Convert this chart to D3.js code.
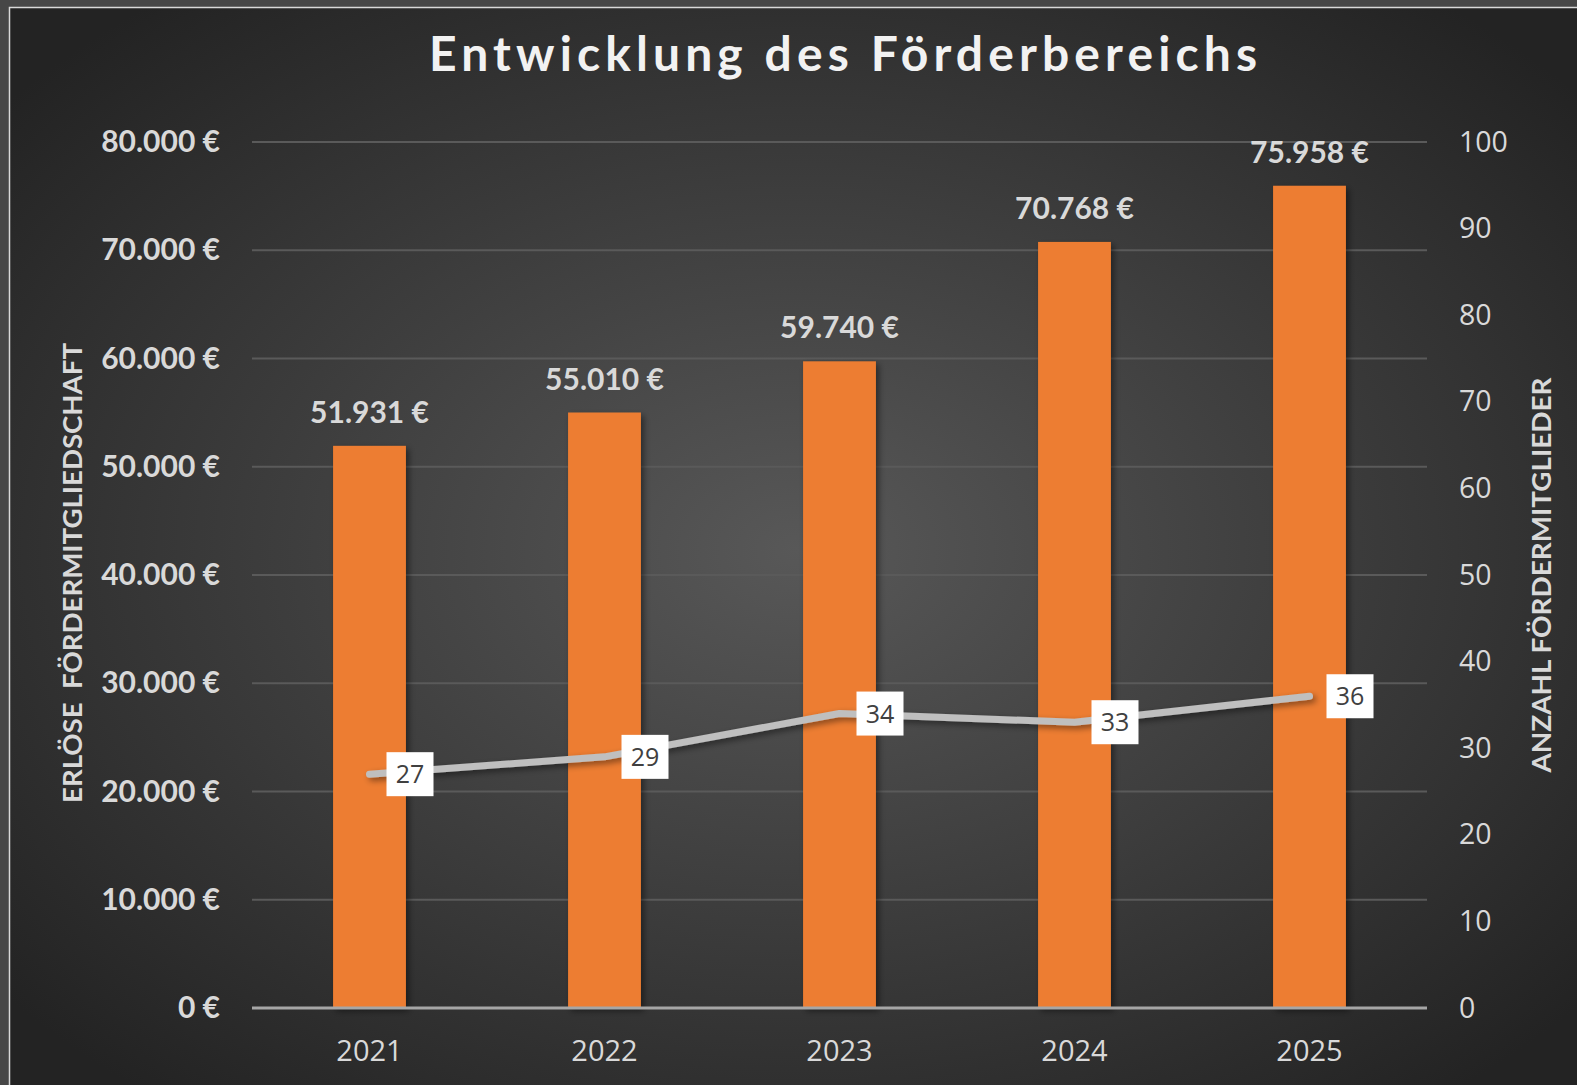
<!DOCTYPE html>
<html>
<head>
<meta charset="utf-8">
<script src="https://cdn.jsdelivr.net/npm/d3@7"></script>
<style>
    html, body { margin: 0; padding: 0; background: #474747; }
    svg { display: block; }
</style>
</head>
<body>
<svg id="chart"></svg>
<script>
// Werte aus dem Diagramm
const years = ['2021', '2022', '2023', '2024', '2025'];
const revenue = [51931, 55010, 59740, 70768, 75958];
const members = [27, 29, 34, 33, 36];
const revenueTicks = [0, 10000, 20000, 30000, 40000, 50000, 60000, 70000, 80000];
const memberTicks = [0, 10, 20, 30, 40, 50, 60, 70, 80, 90, 100];

const width = 1577;
const height = 1085;
const margin = { top: 142, right: 150, bottom: 77, left: 252 };

const svg = d3.select('#chart')
    .attr('width', width)
    .attr('height', height);

const defs = svg.append('defs');
const bg = defs.append('radialGradient')
    .attr('id', 'bg')
    .attr('cx', '50%').attr('cy', '50%').attr('r', '65%');
bg.append('stop').attr('offset', '0%').attr('stop-color', '#585858');
bg.append('stop').attr('offset', '100%').attr('stop-color', '#232323');

const shadow = defs.append('filter')
    .attr('id', 'shadow')
    .attr('x', '-20%').attr('y', '-20%').attr('width', '140%').attr('height', '140%');
shadow.append('feDropShadow')
    .attr('dx', 3).attr('dy', 3).attr('stdDeviation', 3)
    .attr('flood-color', '#000').attr('flood-opacity', 0.45);

// Rahmen + Hintergrund
svg.append('rect')
    .attr('x', 9.5).attr('y', 7.5)
    .attr('width', width).attr('height', height)
    .attr('fill', 'url(#bg)')
    .attr('stroke', '#d9d9d9').attr('stroke-width', 1.5);

const x = d3.scaleBand()
    .domain(years)
    .range([margin.left, width - margin.right])
    .paddingInner(0.69)
    .paddingOuter(0.345);

const yLeft = d3.scaleLinear()
    .domain([0, 80000])
    .range([height - margin.bottom, margin.top]);

const yRight = d3.scaleLinear()
    .domain([0, 100])
    .range([height - margin.bottom, margin.top]);

const euro = (v) => d3.format(',')(v).replace(/,/g, '.') + ' €';

// Gitternetz
svg.append('g')
    .selectAll('line')
    .data(revenueTicks.filter((d) => d > 0))
    .join('line')
    .attr('x1', margin.left)
    .attr('x2', width - margin.right)
    .attr('y1', (d) => yLeft(d))
    .attr('y2', (d) => yLeft(d))
    .attr('stroke', '#5a5a5a')
    .attr('stroke-width', 2);

// linke Achse
const leftAxis = svg.append('g')
    .attr('transform', 'translate(' + margin.left + ',0)')
    .call(d3.axisLeft(yLeft).tickValues(revenueTicks).tickFormat(euro).tickSize(0).tickPadding(32));
leftAxis.select('.domain').remove();
leftAxis.selectAll('text')
    .attr('fill', '#d9d9d9')
    .attr('font-family', 'Lato, sans-serif')
    .attr('font-weight', 'bold')
    .attr('font-size', 30);

// rechte Achse
const rightAxis = svg.append('g')
    .attr('transform', 'translate(' + (width - margin.right) + ',0)')
    .call(d3.axisRight(yRight).tickValues(memberTicks).tickSize(0).tickPadding(32));
rightAxis.select('.domain').remove();
rightAxis.selectAll('text')
    .attr('fill', '#d9d9d9')
    .attr('font-family', '"Open Sans", sans-serif')
    .attr('font-size', 28.5);

// Balken
svg.append('g')
    .selectAll('rect')
    .data(years)
    .join('rect')
    .attr('x', (d) => x(d))
    .attr('width', x.bandwidth())
    .attr('y', (d, i) => yLeft(revenue[i]))
    .attr('height', (d, i) => yLeft(0) - yLeft(revenue[i]))
    .attr('fill', '#ed7d31')
    .attr('filter', 'url(#shadow)');

// x-Achse
const xAxis = svg.append('g')
    .attr('transform', 'translate(0,' + yLeft(0) + ')')
    .call(d3.axisBottom(x).tickSize(0).tickPadding(32));
xAxis.select('.domain')
    .attr('stroke', '#a6a6a6')
    .attr('stroke-width', 3)
    .attr('d', 'M' + margin.left + ',0H' + (width - margin.right));
xAxis.selectAll('text')
    .attr('fill', '#d9d9d9')
    .attr('font-family', '"Open Sans", sans-serif')
    .attr('font-size', 29);

// Balkenbeschriftung
svg.append('g')
    .selectAll('text')
    .data(years)
    .join('text')
    .attr('x', (d) => x(d) + x.bandwidth() / 2)
    .attr('y', (d, i) => yLeft(revenue[i]) - 23)
    .attr('text-anchor', 'middle')
    .attr('fill', '#d9d9d9')
    .attr('font-family', 'Lato, sans-serif')
    .attr('font-weight', 'bold')
    .attr('font-size', 30)
    .text((d, i) => euro(revenue[i]));

// Linie Fördermitglieder
const line = d3.line()
    .x((d, i) => x(years[i]) + x.bandwidth() / 2)
    .y((d) => yRight(d));
svg.append('path')
    .datum(members)
    .attr('d', line)
    .attr('fill', 'none')
    .attr('stroke', '#bfbfbf')
    .attr('stroke-width', 7)
    .attr('stroke-linecap', 'round')
    .attr('stroke-linejoin', 'round')
    .attr('filter', 'url(#shadow)');

const labels = svg.append('g')
    .selectAll('g')
    .data(members)
    .join('g')
    .attr('transform', (d, i) => 'translate(' + (x(years[i]) + x.bandwidth() / 2 + 17) + ',' + yRight(d) + ')');
labels.append('rect')
    .attr('x', 0).attr('y', -22)
    .attr('width', 47).attr('height', 44)
    .attr('fill', '#ffffff');
labels.append('text')
    .attr('x', 23.5).attr('y', 9)
    .attr('text-anchor', 'middle')
    .attr('fill', '#404040')
    .attr('font-family', '"Open Sans", sans-serif')
    .attr('font-size', 25)
    .text((d) => d);

// Achsentitel
svg.append('text')
    .attr('transform', 'translate(82,573) rotate(-90)')
    .attr('text-anchor', 'middle')
    .attr('fill', '#d9d9d9')
    .attr('font-family', 'Lato, sans-serif')
    .attr('font-weight', 'bold')
    .attr('font-size', 27)
    .attr('textLength', 460)
    .attr('lengthAdjust', 'spacingAndGlyphs')
    .style('white-space', 'pre')
    .text('ERLÖSE  FÖRDERMITGLIEDSCHAFT');

svg.append('text')
    .attr('transform', 'translate(1551,575) rotate(-90)')
    .attr('text-anchor', 'middle')
    .attr('fill', '#d9d9d9')
    .attr('font-family', 'Lato, sans-serif')
    .attr('font-weight', 'bold')
    .attr('font-size', 27)
    .attr('textLength', 395)
    .attr('lengthAdjust', 'spacingAndGlyphs')
    .text('ANZAHL FÖRDERMITGLIEDER');

// Titel
svg.append('text')
    .attr('x', 843)
    .attr('y', 71)
    .attr('text-anchor', 'middle')
    .attr('fill', '#f2f2f2')
    .attr('font-family', 'Lato, sans-serif')
    .attr('font-weight', 'bold')
    .attr('font-size', 48)
    .attr('textLength', 828)
    .attr('lengthAdjust', 'spacing')
    .text('Entwicklung des Förderbereichs');
</script>
</body>
</html>
